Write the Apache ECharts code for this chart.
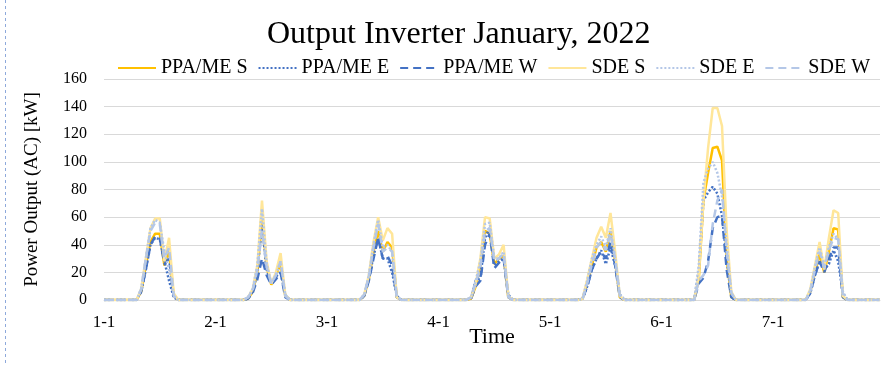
<!DOCTYPE html>
<html><head><meta charset="utf-8">
<script src="https://cdn.jsdelivr.net/npm/echarts@6/dist/echarts.min.js"></script>
<style>html,body{margin:0;padding:0;background:#fff}#c{width:889px;height:365px}</style>
</head><body><div id="c"></div>
<script>
var dayLabels = ["1-1","2-1","3-1","4-1","5-1","6-1","7-1"];
var seriesNames = ["PPA/ME S","PPA/ME E","PPA/ME W","SDE S","SDE E","SDE W"];
var yTicks = [0,20,40,60,80,100,120,140,160];

var ppaS = [
0,0,0,0,0,0,0, 0,6,25,42,48,48,25,36,3,0, 0,0,0,0,0,0,0,
0,0,0,0,0,0,0, 1,6,20,58,24,11,18,26,3,0, 0,0,0,0,0,0,0,
0,0,0,0,0,0,0, 0,3,15,35,50,35,42,38,2,0, 0,0,0,0,0,0,0,
0,0,0,0,0,0,0, 1,10,25,50,48,26,30,32,2,0, 0,0,0,0,0,0,0,
0,0,0,0,0,0,0, 1,12,25,38,42,35,50,28,2,0, 0,0,0,0,0,0,0,
0,0,0,0,0,0,0, 0,15,72,92,110,111,101,30,2,0, 0,0,0,0,0,0,0,
0,0,0,0,0,0,0, 0,6,20,33,20,35,52,51,2,0, 0,0,0,0,0,0,0];
var ppaE = [
0,0,0,0,0,0,0, 0,6,22,40,45,44,28,14,2,0, 0,0,0,0,0,0,0,
0,0,0,0,0,0,0, 1,6,20,55,22,12,17,20,4,0, 0,0,0,0,0,0,0,
0,0,0,0,0,0,0, 0,3,15,32,45,30,30,20,3,0, 0,0,0,0,0,0,0,
0,0,0,0,0,0,0, 2,14,16,45,52,25,28,30,4,0, 0,0,0,0,0,0,0,
0,0,0,0,0,0,0, 1,10,22,30,36,26,38,25,4,0, 0,0,0,0,0,0,0,
0,0,0,0,0,0,0, 0,20,72,78,82,77,61,30,2,0, 0,0,0,0,0,0,0,
0,0,0,0,0,0,0, 0,5,18,28,22,26,36,28,5,0, 0,0,0,0,0,0,0];
var ppaW = [
0,0,0,0,0,0,0, 0,6,22,40,46,45,26,30,2,0, 0,0,0,0,0,0,0,
0,0,0,0,0,0,0, 1,5,15,30,18,11,15,20,2,0, 0,0,0,0,0,0,0,
0,0,0,0,0,0,0, 0,3,14,30,45,30,32,25,2,0, 0,0,0,0,0,0,0,
0,0,0,0,0,0,0, 1,10,14,40,48,23,27,30,2,0, 0,0,0,0,0,0,0,
0,0,0,0,0,0,0, 1,10,22,30,35,30,42,25,2,0, 0,0,0,0,0,0,0,
0,0,0,0,0,0,0, 0,12,16,28,52,60,61,22,2,0, 0,0,0,0,0,0,0,
0,0,0,0,0,0,0, 0,5,18,28,20,30,38,38,2,0, 0,0,0,0,0,0,0];
var sdeS = [
0,0,0,0,0,0,0, 0,8,30,52,59,59,28,45,5,0, 0,0,0,0,0,0,0,
0,0,0,0,0,0,0, 2,8,25,72,28,12,20,34,4,0, 0,0,0,0,0,0,0,
0,0,0,0,0,0,0, 0,4,18,42,60,43,52,48,2,0, 0,0,0,0,0,0,0,
0,0,0,0,0,0,0, 2,12,30,60,59,30,33,40,3,0, 0,0,0,0,0,0,0,
0,0,0,0,0,0,0, 1,15,30,45,53,45,63,35,3,0, 0,0,0,0,0,0,0,
0,0,0,0,0,0,0, 0,17,72,110,139,139,126,50,6,0, 0,0,0,0,0,0,0,
0,0,0,0,0,0,0, 0,8,25,42,22,45,65,63,3,0, 0,0,0,0,0,0,0];
var sdeE = [
0,0,0,0,0,0,0, 0,8,30,52,58,56,35,22,3,0, 0,0,0,0,0,0,0,
0,0,0,0,0,0,0, 2,8,25,66,26,12,18,28,4,0, 0,0,0,0,0,0,0,
0,0,0,0,0,0,0, 0,4,18,40,58,38,40,35,3,0, 0,0,0,0,0,0,0,
0,0,0,0,0,0,0, 2,14,28,55,56,30,30,35,3,0, 0,0,0,0,0,0,0,
0,0,0,0,0,0,0, 1,14,30,40,46,38,52,30,4,0, 0,0,0,0,0,0,0,
0,0,0,0,0,0,0, 0,25,85,95,100,92,75,40,5,0, 0,0,0,0,0,0,0,
0,0,0,0,0,0,0, 0,7,24,38,24,38,48,44,6,0, 0,0,0,0,0,0,0];
var sdeW = [
0,0,0,0,0,0,0, 0,8,30,50,56,55,30,38,3,0, 0,0,0,0,0,0,0,
0,0,0,0,0,0,0, 2,7,22,50,24,12,18,28,3,0, 0,0,0,0,0,0,0,
0,0,0,0,0,0,0, 0,4,17,38,55,35,38,35,2,0, 0,0,0,0,0,0,0,
0,0,0,0,0,0,0, 2,12,24,50,52,28,30,34,2,0, 0,0,0,0,0,0,0,
0,0,0,0,0,0,0, 1,12,26,38,42,36,48,30,3,0, 0,0,0,0,0,0,0,
0,0,0,0,0,0,0, 0,14,18,25,55,72,80,35,5,0, 0,0,0,0,0,0,0,
0,0,0,0,0,0,0, 0,6,22,35,23,36,45,44,3,0, 0,0,0,0,0,0,0];

var categories = [];
for (var d = 0; d < dayLabels.length; d++) {
  for (var h = 0; h < 24; h++) categories.push(dayLabels[d] + " " + (h < 10 ? "0" : "") + h + ":00");
}

var FONT = "Liberation Serif";
var colors = ["#FFC000","#4472C4","#4472C4","#FFE699","#B4C7E7","#B4C7E7"];
var styles = ["solid","dotted","dashed","solid","dotted","dashed"];
var datas = [ppaS, ppaE, ppaW, sdeS, sdeE, sdeW];

var series = seriesNames.map(function (n, i) {
  return {
    name: n, type: "line", data: datas[i], showSymbol: false, symbol: "none",
    lineStyle: { color: colors[i], width: 2.5, type: styles[i] === "dashed" ? [8, 5] : (styles[i] === "dotted" ? [2, 2] : "solid") },
    itemStyle: { color: colors[i] },
    animation: false
  };
});

var chart = echarts.init(document.getElementById("c"), null, { renderer: "canvas" });
chart.setOption({
  backgroundColor: "#fff",
  animation: false,
  title: {
    text: "Output Inverter January, 2022", left: 262, top: 14,
    textStyle: { fontFamily: FONT, fontSize: 32, fontWeight: "normal", color: "#000" }
  },
  legend: {
    top: 53, left: 112, itemWidth: 38, itemHeight: 10, itemGap: 10,
    textStyle: { fontFamily: FONT, fontSize: 20, color: "#000" },
    itemStyle: { opacity: 0 },
    data: seriesNames
  },
  grid: { left: 104, right: 9, top: 79, bottom: 65 },
  xAxis: {
    type: "category", data: categories, boundaryGap: false,
    name: "Time", nameLocation: "middle", nameGap: 26, nameMoveOverlap: false,
    nameTextStyle: { fontFamily: FONT, fontSize: 22, color: "#000" },
    axisLine: { lineStyle: { color: "#d9d9d9", width: 1 } },
    axisTick: { show: false },
    axisLabel: {
      interval: function (idx) { return idx % 24 === 0; },
      formatter: function (v, idx) { return dayLabels[Math.floor(idx / 24)]; },
      fontFamily: FONT, fontSize: 17, color: "#000", margin: 14
    },
    splitLine: { show: false }
  },
  yAxis: {
    type: "value", min: yTicks[0], max: yTicks[yTicks.length - 1], interval: 20,
    name: "Power Output (AC) [kW]", nameLocation: "middle", nameGap: 62,
    nameTextStyle: { fontFamily: FONT, fontSize: 19, color: "#000" },
    axisLine: { show: false }, axisTick: { show: false },
    axisLabel: { fontFamily: FONT, fontSize: 16, color: "#000", margin: 17 },
    splitLine: { lineStyle: { color: "#d9d9d9", width: 1 } }
  },
  graphic: [{
    type: "line", shape: { x1: 5.5, y1: 0, x2: 5.5, y2: 365 }, silent: true,
    style: { stroke: "#8EA9DB", lineWidth: 1, lineDash: [3, 3] }
  }],
  series: series
});
</script>
</body></html>
